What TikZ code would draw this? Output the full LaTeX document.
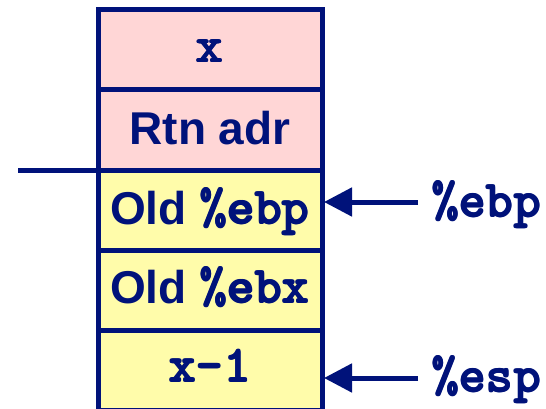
\documentclass[tikz,border=0pt]{standalone}
\usepackage{fontspec}
\setmainfont{Liberation Sans}
\newfontfamily\codefont{lmmonolt10-bold.otf}
\usetikzlibrary{arrows.meta}
\definecolor{navy}{RGB}{0,18,122}
\definecolor{pinkfill}{RGB}{255,214,214}
\definecolor{yellowfill}{RGB}{255,252,170}
\newcommand{\heavy}[1]{\hbox{\rlap{#1}\rlap{\raisebox{0.9pt}{#1}}\rlap{\kern1.1pt\raisebox{0.9pt}{#1}}\kern1.1pt #1}}
\newcommand{\code}[1]{{\fontsize{52}{56}\selectfont\codefont\heavy{#1}}}
\tikzset{
  cell/.style={draw=navy, line width=5pt, minimum width=224pt, minimum height=80pt, inner sep=0pt, outer sep=0pt},
  pinkcell/.style={cell, fill=pinkfill},
  yellowcell/.style={cell, fill=yellowfill},
  celltext/.style={anchor=base, inner sep=0pt, text=navy, font=\fontsize{46}{50}\selectfont\bfseries},
  regtext/.style={anchor=base west, inner sep=0pt, text=navy},
  ptr/.style={draw=navy, line width=5pt, -{Triangle[length=28pt, width=28pt]}},
  frameline/.style={draw=navy, line width=5pt}
}
\begin{document}
\begin{tikzpicture}[x=1pt, y=-1pt]
\useasboundingbox (0,0) rectangle (546,409);
% stack cells
\node[pinkcell] (b1) at (210,50) {};
\node[pinkcell] (b2) at (210,130) {};
\node[yellowcell] (b3) at (210,210) {};
\node[yellowcell] (b4) at (210,290) {};
\node[yellowcell] (b5) at (210,370) {};
% texts
\node[celltext] (t1) at (210,63) {\code{x}};
\node[celltext] (t2) at (210,145) {Rtn adr};
\node[celltext] (t3) at (210,224) {Old \code{\%ebp}};
\node[celltext] (t4) at (210,303) {Old \code{\%ebx}};
\node[celltext] (t5) at (210,382) {\code{x-1}};
% frame line on the left
\coordinate (lstart) at (18,170);
\draw[frameline] (lstart) -- (b3.north west);
% pointers
\node[regtext] (ebp) at (431,217) {\code{\%ebp}};
\node[regtext] (esp) at (431,392) {\code{\%esp}};
\coordinate (ebpstart) at (418,202);
\coordinate (espstart) at (418,378);
\draw[ptr] (ebpstart) -- ([xshift=2pt]ebpstart -| b3.east);
\draw[ptr] (espstart) -- ([xshift=2pt]espstart -| b5.east);
\end{tikzpicture}
\end{document}
